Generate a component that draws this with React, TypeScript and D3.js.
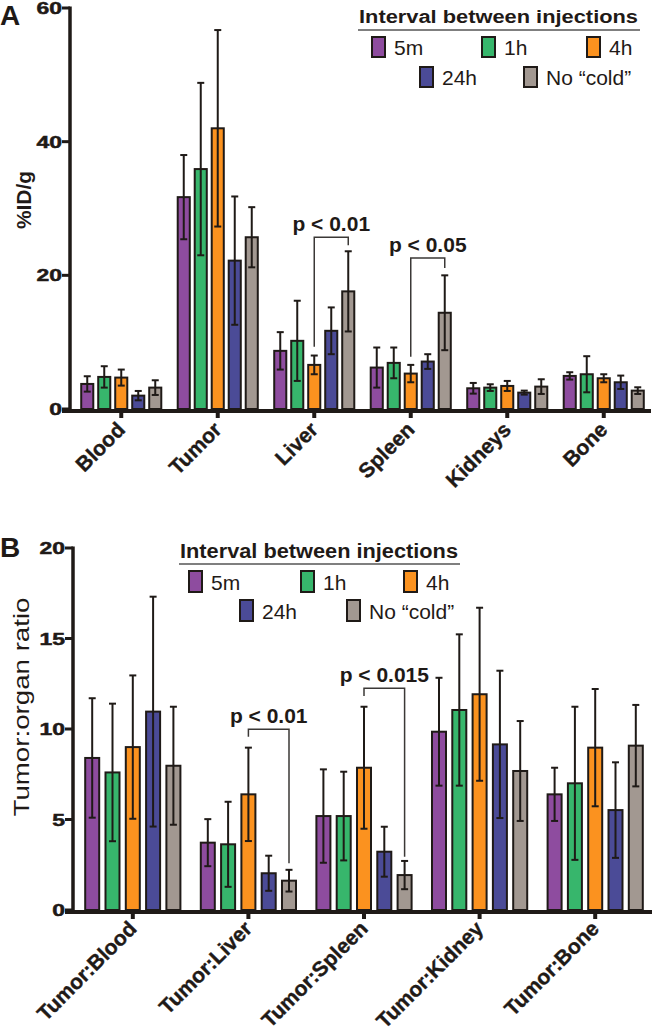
import React, { useRef, useEffect } from "react";
import * as d3 from "d3";

// series (interval between injections)
const seriesNames = ["5m", "1h", "4h", "24h", "No \u201ccold\u201d"];
const seriesColors = ["#8e4c9f", "#37b66c", "#fb921f", "#4b4b97", "#a29891"];

// panel A: %ID/g per organ
const organsA = ["Blood", "Tumor", "Liver", "Spleen", "Kidneys", "Bone"];
const meanA5m = [3.75, 31.7, 8.7, 6.2, 3.1, 4.95];
const meanA1h = [4.8, 35.9, 10.2, 6.9, 3.2, 5.2];
const meanA4h = [4.7, 42.0, 6.6, 5.3, 3.45, 4.6];
const meanA24h = [2.0, 22.2, 11.7, 7.1, 2.45, 4.0];
const meanANoCold = [3.2, 25.7, 17.6, 14.4, 3.35, 2.75];
const errA5m = [1.15, 6.3, 2.8, 3.0, 0.8, 0.55];
const errA1h = [1.6, 12.9, 6.0, 2.3, 0.5, 2.7];
const errA4h = [1.2, 14.7, 1.4, 1.3, 0.75, 0.6];
const errA24h = [0.7, 9.6, 3.5, 1.1, 0.3, 1.0];
const errANoCold = [1.1, 4.5, 6.0, 5.6, 1.1, 0.5];
const yTicksA = [0, 20, 40, 60];

// panel B: tumor:organ ratio
const ratiosB = ["Tumor:Blood", "Tumor:Liver", "Tumor:Spleen", "Tumor:Kidney", "Tumor:Bone"];
const meanB5m = [8.4, 3.72, 5.19, 9.85, 6.39];
const meanB1h = [7.6, 3.63, 5.19, 11.05, 7.0];
const meanB4h = [9.0, 6.39, 7.86, 11.92, 8.97];
const meanB24h = [10.96, 2.03, 3.22, 9.15, 5.52];
const meanBNoCold = [7.97, 1.62, 1.93, 7.68, 9.08];
const errB5m = [3.3, 1.3, 2.58, 2.98, 1.47];
const errB1h = [3.8, 2.35, 2.45, 4.18, 4.23];
const errB4h = [3.96, 2.58, 3.37, 4.78, 3.24];
const errB24h = [6.35, 0.97, 1.38, 4.07, 2.64];
const errBNoCold = [3.26, 0.6, 0.78, 2.76, 2.25];
const yTicksB = [0, 5, 10, 15, 20];

// significance brackets (values in data units)
const bracketsA = [
  { category: "Liver", from: "4h", to: "No \u201ccold\u201d", top: 25.7, fromEnd: 9.3, toEnd: 24.5, label: "p < 0.01" },
  { category: "Spleen", from: "4h", to: "No \u201ccold\u201d", top: 22.6, fromEnd: 7.8, toEnd: 21.1, label: "p < 0.05" },
];
const bracketsB = [
  { category: "Tumor:Liver", from: "4h", to: "No \u201ccold\u201d", top: 9.98, fromEnd: 9.57, toEnd: 2.58, label: "p < 0.01" },
  { category: "Tumor:Spleen", from: "4h", to: "No \u201ccold\u201d", top: 12.25, fromEnd: 11.82, toEnd: 2.94, label: "p < 0.015" },
];

const FONT = "'Liberation Sans', Arial, Helvetica, sans-serif";
const INK = "#1f1a17";

function drawPanel(svg: any, p: any) {
  const x = d3.scaleBand().domain(p.categories).range(p.xRange);
  const inner = d3
    .scaleBand()
    .domain(seriesNames)
    .range([-p.groupHalf, p.groupHalf])
    .paddingInner(p.barPad)
    .paddingOuter(p.barPad / 2);
  const y = d3.scaleLinear().domain(p.yDomain).range(p.yRange);
  const g = svg.append("g");

  const rows: any[] = [];
  seriesNames.forEach((s, si) =>
    p.categories.forEach((c: string, ci: number) =>
      rows.push({ s, si, c, v: p.means[si][ci], e: p.errs[si][ci] })
    )
  );
  const left = (d: any) => (x(d.c) as number) + x.bandwidth() / 2 + (inner(d.s) as number);
  const mid = (d: any) => left(d) + inner.bandwidth() / 2;

  //bars
  g.selectAll(".bar")
    .data(rows)
    .join("rect")
    .attr("x", left)
    .attr("y", (d: any) => y(d.v))
    .attr("width", inner.bandwidth())
    .attr("height", (d: any) => y(0) - y(d.v))
    .attr("fill", (d: any) => seriesColors[d.si])
    .attr("stroke", INK)
    .attr("stroke-width", 2);

  //error bars
  const eb = g.selectAll(".err").data(rows).join("g");
  eb.append("line")
    .attr("x1", mid)
    .attr("x2", mid)
    .attr("y1", (d: any) => y(Math.max(0, d.v - d.e)))
    .attr("y2", (d: any) => y(d.v + d.e));
  [1, -1].forEach((sign) =>
    eb.append("line")
      .attr("x1", (d: any) => mid(d) - 3.5)
      .attr("x2", (d: any) => mid(d) + 3.5)
      .attr("y1", (d: any) => y(d.v + sign * d.e))
      .attr("y2", (d: any) => y(d.v + sign * d.e))
      .style("display", (d: any) => (d.v - d.e < 0 && sign < 0 ? "none" : null))
  );
  eb.selectAll("line").attr("stroke", INK).attr("stroke-width", 2);

  //axes
  const y0 = y(0);
  const yTop = y(p.yDomain[1]);
  g.append("line")
    .attr("x1", p.axisX).attr("x2", p.axisX)
    .attr("y1", yTop - 1.5).attr("y2", y0 + 4)
    .attr("stroke", INK).attr("stroke-width", 3.5);
  g.append("line")
    .attr("x1", p.axisX - 8).attr("x2", p.xRange[1] - 1)
    .attr("y1", y0 + 2).attr("y2", y0 + 2)
    .attr("stroke", INK).attr("stroke-width", 4);
  g.selectAll(".ytick")
    .data(p.yTicks)
    .join("line")
    .attr("x1", p.axisX - 8).attr("x2", p.axisX)
    .attr("y1", (t: number) => y(t)).attr("y2", (t: number) => y(t))
    .attr("stroke", INK).attr("stroke-width", 3);
  g.selectAll(".ylab")
    .data(p.yTicks)
    .join("text")
    .attr("transform", (t: number) => `translate(${p.axisX - 8},${y(t) + 6}) scale(1.35,1)`)
    .attr("text-anchor", "end")
    .attr("font-family", FONT)
    .attr("font-weight", "bold")
    .attr("font-size", 17)
    .attr("fill", INK)
    .attr("stroke", INK)
    .attr("stroke-width", 0.5)
    .text((t: number) => t);
  g.selectAll(".xtick")
    .data(p.categories)
    .join("line")
    .attr("x1", (c: string) => (x(c) as number) + x.bandwidth() / 2)
    .attr("x2", (c: string) => (x(c) as number) + x.bandwidth() / 2)
    .attr("y1", y0 + 2).attr("y2", y0 + 9)
    .attr("stroke", INK).attr("stroke-width", 4);
  g.selectAll(".xlab")
    .data(p.categories)
    .join("text")
    .attr("transform", (c: string) => `translate(${(x(c) as number) + x.bandwidth() / 2 + 5},${y0 + p.xLabelDy}) rotate(-45)`)
    .attr("text-anchor", "end")
    .attr("font-family", FONT)
    .attr("font-weight", "bold")
    .attr("font-size", p.xFont)
    .attr("fill", INK)
    .attr("stroke", INK)
    .attr("stroke-width", 0.4)
    .text((c: string) => c);

  //axis title
  g.append("text")
    .attr("transform", `translate(${p.yTitleX},${p.yTitleY}) rotate(-90)`)
    .attr("text-anchor", "middle")
    .attr("font-family", FONT)
    .attr("font-weight", p.yTitleWeight)
    .attr("font-size", p.yTitleSize)
    .attr("fill", INK)
    .attr("textLength", p.yTitleLength)
    .attr("lengthAdjust", "spacingAndGlyphs")
    .text(p.yTitle);

  //panel letter
  g.append("text")
    .attr("x", 0).attr("y", p.letterY)
    .attr("font-family", FONT).attr("font-weight", "bold")
    .attr("font-size", 28).attr("fill", INK)
    .text(p.letter);

  //significance
  const bx = (c: string, s: string) =>
    (x(c) as number) + x.bandwidth() / 2 + (inner(s) as number) + inner.bandwidth() / 2;
  p.brackets.forEach((b: any) => {
    const xl = bx(b.category, b.from);
    const xr = bx(b.category, b.to);
    g.append("path")
      .attr("d", `M${xl},${y(b.fromEnd)}V${y(b.top)}H${xr}V${y(b.toEnd)}`)
      .attr("fill", "none").attr("stroke", "#3b3836").attr("stroke-width", 1.5);
    g.append("text")
      .attr("x", (xl + xr) / 2).attr("y", y(b.top) - 6)
      .attr("text-anchor", "middle")
      .attr("font-family", FONT).attr("font-weight", "bold")
      .attr("font-size", 21).attr("fill", INK)
      .text(b.label);
  });

  //legend
  const lg = p.legend;
  g.append("text")
    .attr("x", lg.titleX).attr("y", lg.titleY)
    .attr("font-family", FONT).attr("font-weight", "bold")
    .attr("font-size", lg.titleSize).attr("fill", INK)
    .attr("textLength", lg.titleLength).attr("lengthAdjust", "spacingAndGlyphs")
    .text("Interval between injections");
  g.append("line")
    .attr("x1", lg.titleX - 1).attr("x2", lg.titleX + lg.titleLength + 2)
    .attr("y1", lg.lineY).attr("y2", lg.lineY)
    .attr("stroke", "#555").attr("stroke-width", 1.5);
  const items = g.selectAll(".leg")
    .data(seriesNames.map((s, i) => ({ s, i, pos: lg.items[i] })))
    .join("g")
    .attr("transform", (d: any) => `translate(${d.pos[0]},${d.pos[1]})`);
  items.append("rect")
    .attr("width", 13).attr("height", lg.swatchH)
    .attr("fill", (d: any) => seriesColors[d.i])
    .attr("stroke", INK).attr("stroke-width", 2);
  items.append("text")
    .attr("x", 22).attr("y", lg.swatchH - 2)
    .attr("font-family", FONT).attr("font-size", 21).attr("fill", INK)
    .text((d: any) => d.s);
}

const panelA = {
  categories: organsA,
  means: [meanA5m, meanA1h, meanA4h, meanA24h, meanANoCold],
  errs: [errA5m, errA1h, errA4h, errA24h, errANoCold],
  xRange: [73, 652],
  groupHalf: 42.5,
  barPad: 0.29,
  yDomain: [0, 60],
  yRange: [409, 8],
  yTicks: yTicksA,
  axisX: 70,
  xFont: 21,
  xLabelDy: 22,
  yTitle: "%ID/g",
  yTitleX: 31,
  yTitleY: 200,
  yTitleSize: 21,
  yTitleWeight: "bold",
  yTitleLength: 58,
  letter: "A",
  letterY: 25,
  brackets: bracketsA,
  legend: {
    titleX: 359, titleY: 23, titleSize: 18, titleLength: 279, lineY: 30, swatchH: 20,
    items: [[372, 37], [482, 37], [587, 37], [420, 67], [524, 67]],
  },
};

const panelB = {
  categories: ratiosB,
  means: [meanB5m, meanB1h, meanB4h, meanB24h, meanBNoCold],
  errs: [errB5m, errB1h, errB4h, errB24h, errBNoCold],
  xRange: [75, 653],
  groupHalf: 50.75,
  barPad: 0.31,
  yDomain: [0, 20],
  yRange: [910, 548],
  yTicks: yTicksB,
  axisX: 73,
  xFont: 21,
  xLabelDy: 20,
  yTitle: "Tumor:organ ratio",
  yTitleX: 29,
  yTitleY: 707,
  yTitleSize: 22,
  yTitleWeight: "normal",
  yTitleLength: 219,
  letter: "B",
  letterY: 557,
  brackets: bracketsB,
  legend: {
    titleX: 180, titleY: 558, titleSize: 20, titleLength: 278, lineY: 564, swatchH: 21,
    items: [[189, 571], [301, 571], [404, 571], [240, 600], [347, 600]],
  },
};

export default function App() {
  const svgRef = useRef<SVGSVGElement>(null);

  useEffect(() => {
    const svg = d3.select(svgRef.current);
    svg.selectAll("*").remove();
    drawPanel(svg, panelA);
    drawPanel(svg, panelB);
  }, []);

  return (
    <svg
      ref={svgRef}
      width={653}
      height={1035}
      style={{ position: "absolute", left: 0, top: 0, background: "#fff" }}
    ></svg>
  );
}
